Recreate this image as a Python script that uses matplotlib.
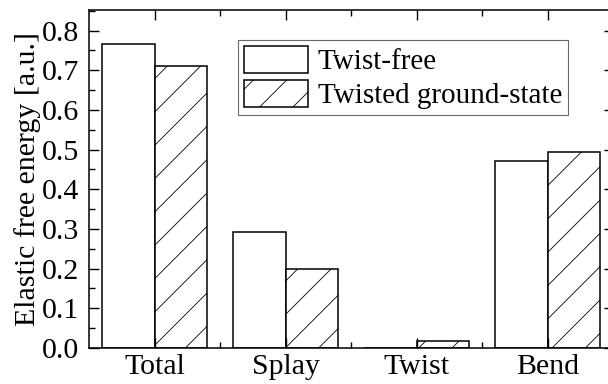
import matplotlib
matplotlib.use("Agg")
import matplotlib.pyplot as plt
import numpy as np
from matplotlib.ticker import MultipleLocator, FixedLocator

categories = ["Total", "Splay", "Twist", "Bend"]
twist_free = [0.766, 0.292, 0.0, 0.471]
twisted_ground = [0.710, 0.198, 0.018, 0.493]
series_labels = ["Twist-free", "Twisted ground-state"]

plt.rcParams['font.family'] = ['Liberation Serif', 'DejaVu Serif']
plt.rcParams['hatch.color'] = '#555555'
plt.rcParams['hatch.linewidth'] = 0.6

fig = plt.figure(figsize=(6.08, 3.84), dpi=100)
ax = fig.add_axes([89/608, 1-348/384, (613.5-89)/608, (348-10)/384])

x = np.arange(len(categories))
w = 0.4
ax.bar(x - w/2, twist_free, width=w, color='white', edgecolor='black', linewidth=1.1, label=series_labels[0])
ax.bar(x + w/2, twisted_ground, width=w, color='white', edgecolor='black', linewidth=1.1, hatch='/', label=series_labels[1])

ax.set_xlim(-0.5, 3.5)
ax.set_ylim(0, 0.852)
ax.set_xticks(x)
ax.set_xticklabels(categories)
ax.xaxis.set_minor_locator(FixedLocator([0.5, 1.5, 2.5]))
ax.yaxis.set_major_locator(MultipleLocator(0.1))
ax.yaxis.set_minor_locator(MultipleLocator(0.05))
ax.yaxis.set_major_formatter(matplotlib.ticker.FormatStrFormatter('%.1f'))
ax.tick_params(which='both', direction='in', top=True, right=True, width=1, labelsize=21.5)
ax.tick_params(axis='y', which='both', pad=7)
ax.tick_params(axis='x', which='both', pad=4)
ax.tick_params(which='major', length=7)
ax.tick_params(which='minor', length=4)
for s in ax.spines.values():
    s.set_linewidth(1.1)

ax.set_ylabel("Elastic free energy [a.u.]", fontsize=21.5, labelpad=1)

leg = ax.legend(loc='upper left', bbox_to_anchor=((238-89)/524.5, (348-40)/338), fontsize=21,
                handlelength=2.2, handleheight=1.06, handletextpad=0.34, borderpad=0.2,
                labelspacing=0.15, borderaxespad=0, fancybox=False, frameon=True)
leg.get_frame().set_edgecolor('#444444')
leg.get_frame().set_linewidth(0.8)

fig.savefig("out.png", dpi=100)
